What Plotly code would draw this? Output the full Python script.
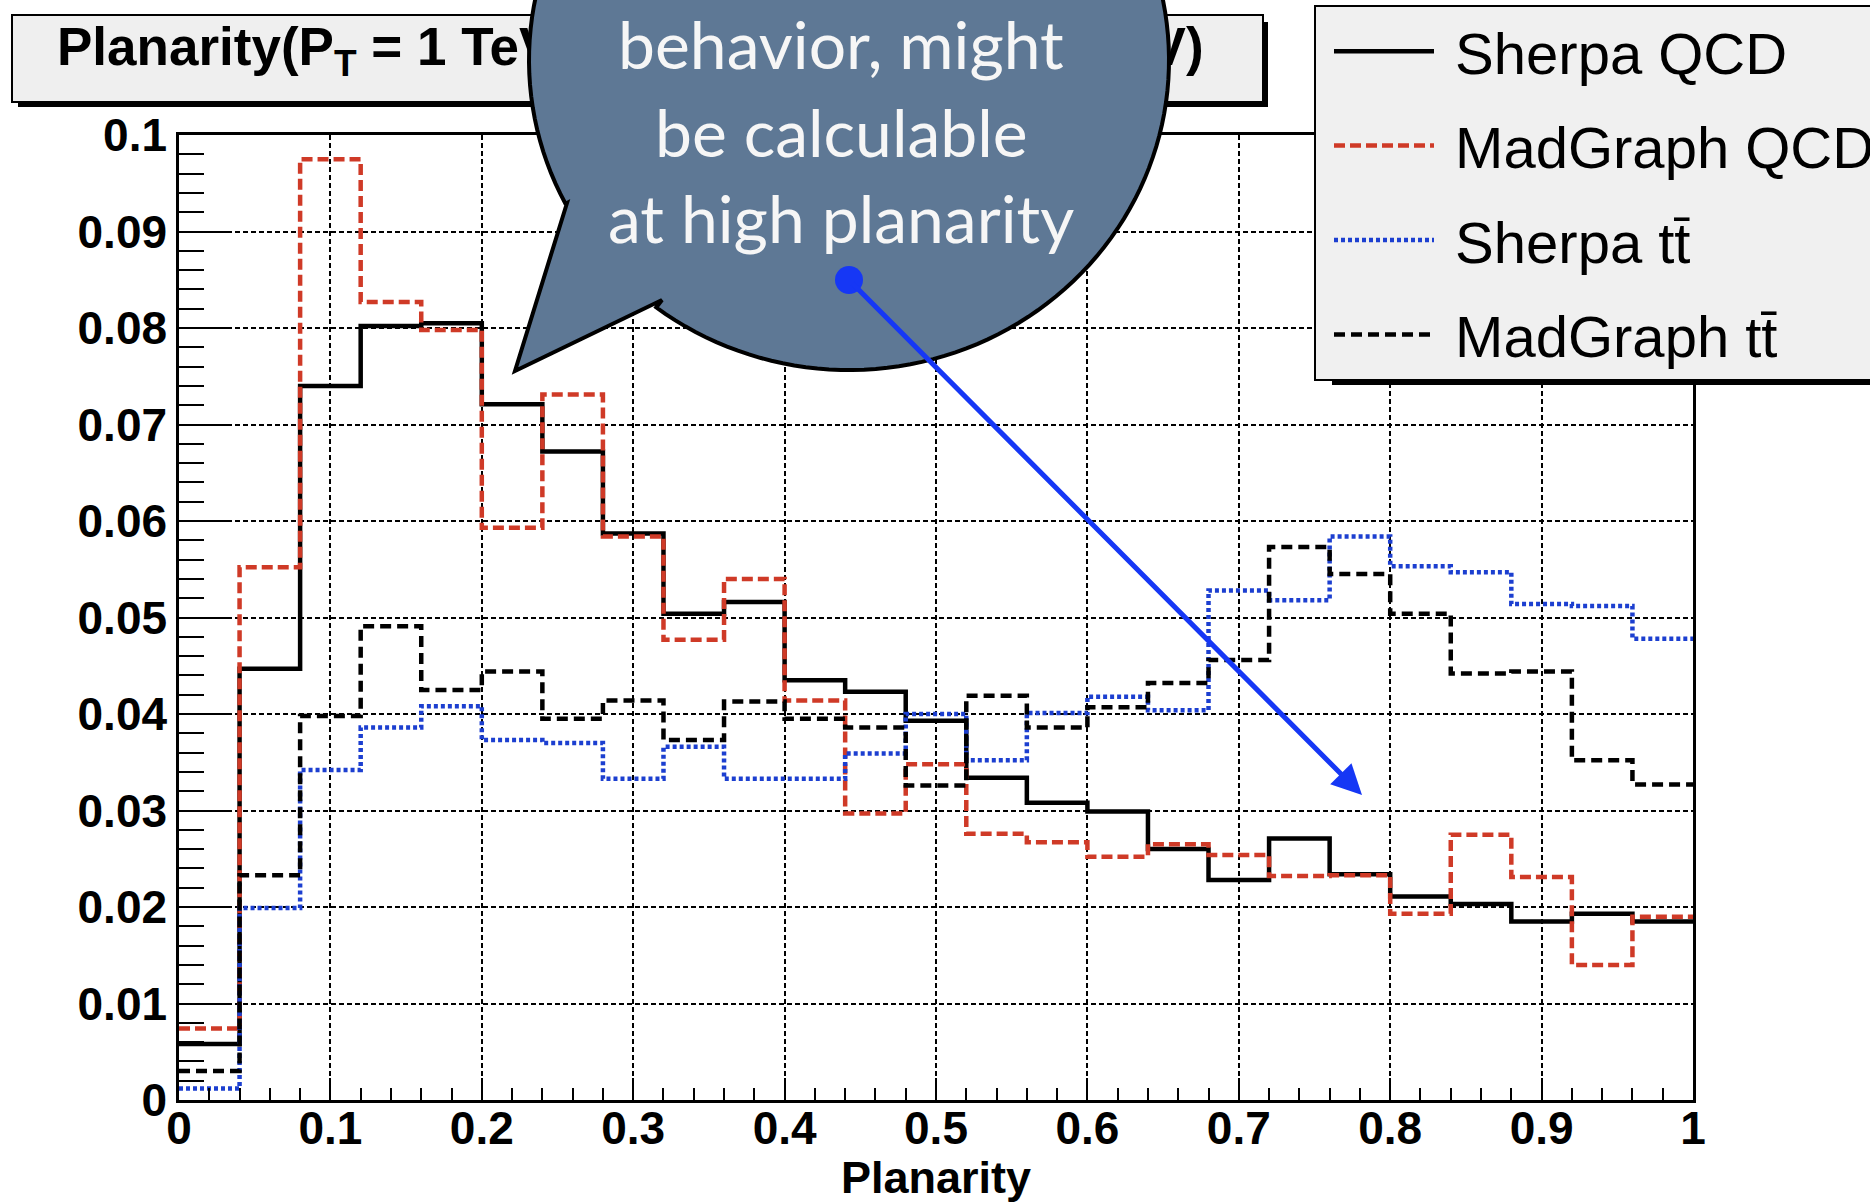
import math
import plotly.graph_objects as go

# ---------------------------------------------------------------- data
planarity_edges = [0.00, 0.04, 0.08, 0.12, 0.16, 0.20, 0.24, 0.28, 0.32,
                   0.36, 0.40, 0.44, 0.48, 0.52, 0.56, 0.60, 0.64, 0.68,
                   0.72, 0.76, 0.80, 0.84, 0.88, 0.92, 0.96, 1.00]

sherpa_qcd = [0.0058, 0.0447, 0.0740, 0.0802, 0.0805, 0.0721, 0.0672, 0.0587,
              0.0504, 0.0516, 0.0435, 0.0423, 0.0393, 0.0334, 0.0308, 0.0299,
              0.0260, 0.0228, 0.0271, 0.0234, 0.0211, 0.0203, 0.0185, 0.0193,
              0.0185]

madgraph_qcd = [0.0074, 0.0552, 0.0975, 0.0827, 0.0798, 0.0593, 0.0731, 0.0584,
                0.0477, 0.0540, 0.0414, 0.0297, 0.0348, 0.0276, 0.0267, 0.0252,
                0.0265, 0.0254, 0.0232, 0.0233, 0.0193, 0.0275, 0.0231, 0.0140,
                0.0190]

sherpa_tt = [0.0012, 0.0199, 0.0342, 0.0386, 0.0408, 0.0373, 0.0370, 0.0333,
             0.0366, 0.0333, 0.0333, 0.0359, 0.0400, 0.0352, 0.0401, 0.0418,
             0.0404, 0.0528, 0.0518, 0.0584, 0.0553, 0.0547, 0.0514, 0.0512,
             0.0478]

madgraph_tt = [0.0030, 0.0233, 0.0398, 0.0491, 0.0425, 0.0444, 0.0395, 0.0414,
               0.0373, 0.0413, 0.0395, 0.0386, 0.0326, 0.0419, 0.0386, 0.0407,
               0.0432, 0.0456, 0.0573, 0.0545, 0.0504, 0.0442, 0.0444, 0.0352,
               0.0327]

series_names = ["Sherpa QCD", "MadGraph QCD", "Sherpa tt\u0304", "MadGraph tt\u0304"]

title_text = ("Planarity(P<sub>T</sub> = 1 TeV, "
              "160 GeV &lt; m<sub>J</sub> &lt; 190 GeV)")
callout_lines = ["approx. universal", "behavior, might", "be calculable",
                 "at high planarity"]

# ---------------------------------------------------------------- geometry
# figure size and the pixel box of the histogram frame
W, H = 1870, 1203
L, R, T, B = 179, 1693, 135, 1100


def fx(px):
    return px / W


def fy(py):
    return 1 - py / H


BASE_FONT = "Liberation Sans, Arial, sans-serif"
RED = "#cf3a27"
BLUE = "#1c3fd0"
ARROW_BLUE = "#1637f5"

# ---------------------------------------------------------------- traces
fig = go.Figure()

styles = [
    dict(color="black", width=4.5, dash="solid"),
    dict(color=RED, width=4.5, dash="11px,5px"),
    dict(color=BLUE, width=4.5, dash="4px,3px"),
    dict(color="black", width=4.5, dash="11px,6px"),
]

for name, vals, st in zip(series_names,
                          [sherpa_qcd, madgraph_qcd, sherpa_tt, madgraph_tt],
                          styles):
    fig.add_trace(go.Scatter(
        x=planarity_edges,
        y=vals + [vals[-1]],
        mode="lines",
        line=dict(shape="hv", **st),
        name="\u00a0" + name,
        legendgroup=name,
        hoverinfo="skip",
        xaxis="x", yaxis="y",
    ))

# header text, on a full-figure pixel overlay so the callout can cover it
fig.add_trace(go.Scatter(
    x=[57], y=[52], mode="text", text=[title_text],
    textposition="middle right",
    textfont=dict(family=BASE_FONT, size=53, color="black", weight="bold"),
    showlegend=False, hoverinfo="skip", xaxis="x2", yaxis="y2",
))

# ---------------------------------------------------------------- shapes
shapes = []


def rect(x0, y0, x1, y1, **kw):
    return dict(type="rect", xref="paper", yref="paper",
                x0=fx(x0), y0=fy(y1), x1=fx(x1), y1=fy(y0), **kw)


# header box with its drop shadow
shapes.append(rect(18, 22, 1268, 107, layer="below",
                   fillcolor="black", line=dict(width=0)))
shapes.append(rect(12, 15, 1263, 102, layer="below",
                   fillcolor="#efefef", line=dict(color="black", width=2)))

# legend drop shadow
shapes.append(rect(1332, 370, 1900, 385, layer="below",
                   fillcolor="black", line=dict(width=0)))

# speech-bubble callout
cx, cy, rx, ry = 849, 60, 320, 310
tip = (515, 371)
notch = (662, 300)
leave = (567, 203)
a0 = math.atan2((notch[1] - cy) / ry, (notch[0] - cx) / rx)
a1 = math.atan2((leave[1] - cy) / ry, (leave[0] - cx) / rx) - 2 * math.pi
pts = [tip, notch]
n = 160
for i in range(n + 1):
    a = a0 + (a1 - a0) * i / n
    pts.append((cx + rx * math.cos(a), cy + ry * math.sin(a)))
pts.append(leave)
path = ""
for i, (px, py) in enumerate(pts):
    path += ("M" if i == 0 else "L") + f"{fx(px):.5f},{fy(py):.5f} "
path += "Z"
shapes.append(dict(type="path", xref="paper", yref="paper", path=path,
                   layer="above", fillcolor="#5e7895",
                   line=dict(color="black", width=4)))

# start dot of the pointer arrow
dot_c, dot_r = (849, 280), 14
shapes.append(dict(type="circle", xref="paper", yref="paper",
                   x0=fx(dot_c[0] - dot_r), y0=fy(dot_c[1] + dot_r),
                   x1=fx(dot_c[0] + dot_r), y1=fy(dot_c[1] - dot_r),
                   layer="above", fillcolor=ARROW_BLUE, line=dict(width=0)))

# ---------------------------------------------------------------- annotations
annotations = []
line_centres = [-43, 44, 131, 218]
for txt, yc in zip(callout_lines, line_centres):
    annotations.append(dict(
        x=fx(841), y=fy(yc), xref="paper", yref="paper", text=txt,
        showarrow=False, xanchor="center", yanchor="middle",
        font=dict(family="Lato, 'Open Sans', sans-serif", size=66,
                  color="#f6f6f6"),
    ))

annotations.append(dict(
    x=1362, y=795, xref="x2", yref="y2", ax=851, ay=282, axref="x2",
    ayref="y2", text="", showarrow=True, arrowhead=2, arrowsize=1.2,
    arrowwidth=5, arrowcolor=ARROW_BLUE,
))

# ---------------------------------------------------------------- layout
tick_font = dict(family=BASE_FONT, size=46, color="black", weight="bold")
axis_common = dict(
    showline=True, linewidth=2.5, linecolor="black", mirror=True,
    showgrid=True, gridcolor="black", gridwidth=1.6, griddash="5px,3px",
    zeroline=False, ticks="inside", tickwidth=2, tickcolor="black",
    tickfont=tick_font,
)

fig.update_layout(
    width=W, height=H,
    margin=dict(l=0, r=0, t=0, b=0, autoexpand=False),
    paper_bgcolor="white", plot_bgcolor="rgba(0,0,0,0)",
    xaxis=dict(domain=[fx(L), fx(R)], anchor="y", range=[0, 1],
               tick0=0, dtick=0.1, ticklen=22, ticklabelstandoff=-14,
               minor=dict(dtick=0.02, ticks="inside", ticklen=12,
                          tickwidth=2, tickcolor="black", showgrid=False),
               title=dict(text="Planarity", standoff=20,
                          font=dict(family=BASE_FONT, size=45, color="black",
                                    weight="bold")),
               **axis_common),
    yaxis=dict(domain=[fy(B), fy(T)], anchor="x", range=[0, 0.1],
               tick0=0, dtick=0.01, ticklen=50,
               minor=dict(dtick=0.002, ticks="inside", ticklen=25,
                          tickwidth=2, tickcolor="black", showgrid=False),
               **axis_common),
    xaxis2=dict(domain=[0, 1], anchor="y2", range=[0, W], visible=False,
                showgrid=False, zeroline=False),
    yaxis2=dict(domain=[0, 1], anchor="x2", range=[H, 0], visible=False,
                showgrid=False, zeroline=False),
    legend=dict(
        x=fx(1314), y=fy(5), xanchor="left", yanchor="top",
        bgcolor="#f0f0f0", bordercolor="black", borderwidth=2,
        font=dict(family=BASE_FONT, size=58, color="black"),
        itemwidth=100, indentation=13, tracegroupgap=16,
        traceorder="grouped",
    ),
    shapes=shapes,
    annotations=annotations,
    showlegend=True,
)

fig.write_html("out.html")
